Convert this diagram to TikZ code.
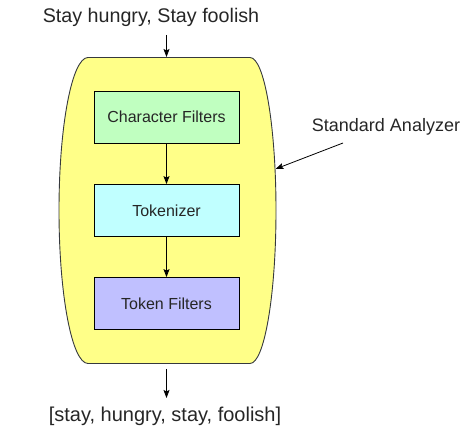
\documentclass[tikz,border=0pt]{standalone}
\usepackage{fontspec}
\setmainfont{Liberation Sans}
\usetikzlibrary{arrows.meta}
\definecolor{shapeyellow}{HTML}{FFFF88}
\definecolor{shapeline}{HTML}{36393D}
\definecolor{cfgreen}{HTML}{C0FFC0}
\definecolor{tokcyan}{HTML}{C0FFFF}
\definecolor{tfblue}{HTML}{C0C0FF}
\tikzset{
  stagebox/.style={draw=black, line width=0.8pt, minimum width=145pt, minimum height=52pt, inner sep=0pt, font=\fontsize{16}{19}\selectfont, text=black!85},
  flow/.style={draw=black, line width=0.8pt, -{Stealth[length=8pt,width=6pt,inset=1.5pt]}},
  lbl/.style={inner sep=0pt, text=black!85}
}
\begin{document}
\begin{tikzpicture}[x=1pt,y=-1pt]
\useasboundingbox (0,0) rectangle (467,433);
% analyzer shape
\path[fill=shapeyellow, draw=shapeline, line width=0.9pt]
  (88,57.5) -- (250,57.5)
  arc[start angle=-90, end angle=90, x radius=26, y radius=153]
  -- (88,363.5)
  arc[start angle=90, end angle=270, x radius=29, y radius=153]
  -- cycle;
\node[stagebox, fill=cfgreen] (cf) at (166.5,117) {Character Filters};
\node[stagebox, fill=tokcyan] (tok) at (166.5,210.5) {Tokenizer};
\node[stagebox, fill=tfblue] (tf) at (166.5,303.5) {Token Filters};
\draw[flow] (cf) -- (tok);
\draw[flow] (tok) -- (tf);
\node[lbl, font=\fontsize{19.7}{22}\selectfont] (input) at (151,17) {Stay hungry, Stay foolish};
\node[lbl, font=\fontsize{20}{23}\selectfont] (output) at (165,416) {[stay, hungry, stay, foolish]};
\node[lbl, font=\fontsize{18}{21}\selectfont] (name) at (386,127) {Standard Analyzer};
\coordinate (inA) at (166.5,35);
\coordinate (inB) at (166.5,57);
\coordinate (outA) at (166.5,369);
\coordinate (outB) at (166.5,398);
\coordinate (nameA) at (343,143);
\coordinate (nameB) at (275.5,169);
\draw[flow] (inA) -- (inB);
\draw[flow] (outA) -- (outB);
\draw[flow] (nameA) -- (nameB);
\end{tikzpicture}
\end{document}
